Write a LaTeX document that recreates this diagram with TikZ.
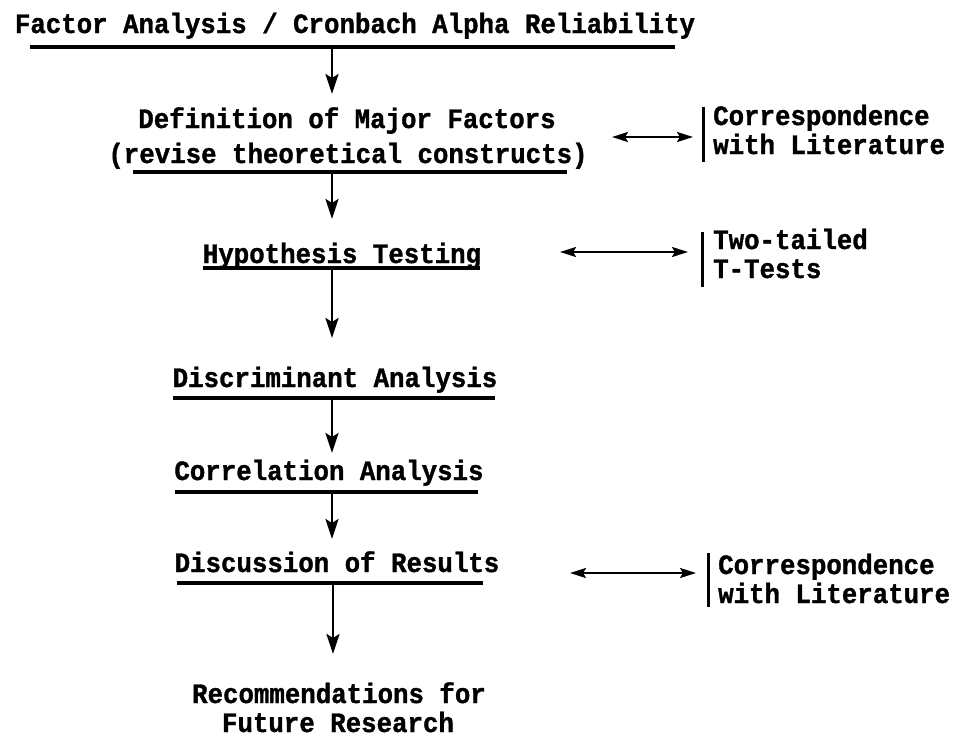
\documentclass[tikz,border=0pt]{standalone}
\usepackage{fontspec}
\newfontfamily\tw{Liberation Mono}[FakeStretch=0.92,FakeBold=1.2]
\usetikzlibrary{arrows.meta}
\begin{document}
\begin{tikzpicture}[x=1pt,y=-1pt,
  txt/.style={inner sep=0pt, anchor=base, font=\tw\bfseries\fontsize{28}{30}\selectfont},
  ltxt/.style={txt, anchor=base west},
  uline/.style={line width=3.2pt},
  down/.style={line width=2.5pt, -{Stealth[length=20pt,width=13pt,inset=4pt]}},
  both/.style={line width=2.6pt, {Stealth[length=16pt,width=10pt,inset=3pt]}-{Stealth[length=16pt,width=10pt,inset=3pt]}},
  bar/.style={line width=3pt}]
\useasboundingbox (0,0) rectangle (961,737);

% main column texts
\node[txt] (title) at (355,33) {Factor Analysis / Cronbach Alpha Reliability};
\node[txt] (def1) at (347,128) {Definition of Major Factors};
\node[txt] (def2) at (348,163) {(revise theoretical constructs)};
\node[txt] (hyp) at (342,263) {Hypothesis Testing};
\node[txt] (disc) at (335,387) {Discriminant Analysis};
\node[txt] (corr) at (329,480) {Correlation Analysis};
\node[txt] (discu) at (337,572) {Discussion of Results};
\node[txt] (rec1) at (339,703) {Recommendations for};
\node[txt] (rec2) at (338,732) {Future Research};

% side texts
\node[ltxt] (c1a) at (713,125) {Correspondence};
\node[ltxt] (c1b) at (713,154) {with Literature};
\node[ltxt] (t1) at (713,249) {Two-tailed};
\node[ltxt] (t2) at (713,278) {T-Tests};
\node[ltxt] (c2a) at (718,574) {Correspondence};
\node[ltxt] (c2b) at (718,603) {with Literature};

% underlines
\coordinate (u1l) at (30,47);  \coordinate (u1r) at (675,47);
\coordinate (u2l) at (133,172); \coordinate (u2r) at (567,172);
\coordinate (u3l) at (203,268); \coordinate (u3r) at (480,268);
\coordinate (u4l) at (173,398); \coordinate (u4r) at (495,398);
\coordinate (u5l) at (175,492); \coordinate (u5r) at (478,492);
\coordinate (u6l) at (177,583); \coordinate (u6r) at (483,583);
\foreach \i in {1,...,6} { \draw[uline] (u\i l) -- (u\i r); }

% down arrows
\coordinate (a1s) at (332,47);  \coordinate (a1e) at (332,94);
\coordinate (a2s) at (332,172); \coordinate (a2e) at (332,219);
\coordinate (a3s) at (332,268); \coordinate (a3e) at (332,338);
\coordinate (a4s) at (332,398); \coordinate (a4e) at (332,453);
\coordinate (a5s) at (332,492); \coordinate (a5e) at (332,539);
\coordinate (a6s) at (333,583); \coordinate (a6e) at (333,654);
\foreach \i in {1,...,6} { \draw[down] (a\i s) -- (a\i e); }

% double arrows and bars
\coordinate (d1l) at (612,137); \coordinate (d1r) at (693,137);
\coordinate (d2l) at (560,252); \coordinate (d2r) at (688,252);
\coordinate (d3l) at (570,573); \coordinate (d3r) at (696,573);
\foreach \i in {1,2,3} { \draw[both] (d\i l) -- (d\i r); }

\coordinate (b1t) at (703,107); \coordinate (b1b) at (703,162);
\coordinate (b2t) at (702,232); \coordinate (b2b) at (702,287);
\coordinate (b3t) at (708,553); \coordinate (b3b) at (708,607);
\foreach \i in {1,2,3} { \draw[bar] (b\i t) -- (b\i b); }
\end{tikzpicture}
\end{document}
